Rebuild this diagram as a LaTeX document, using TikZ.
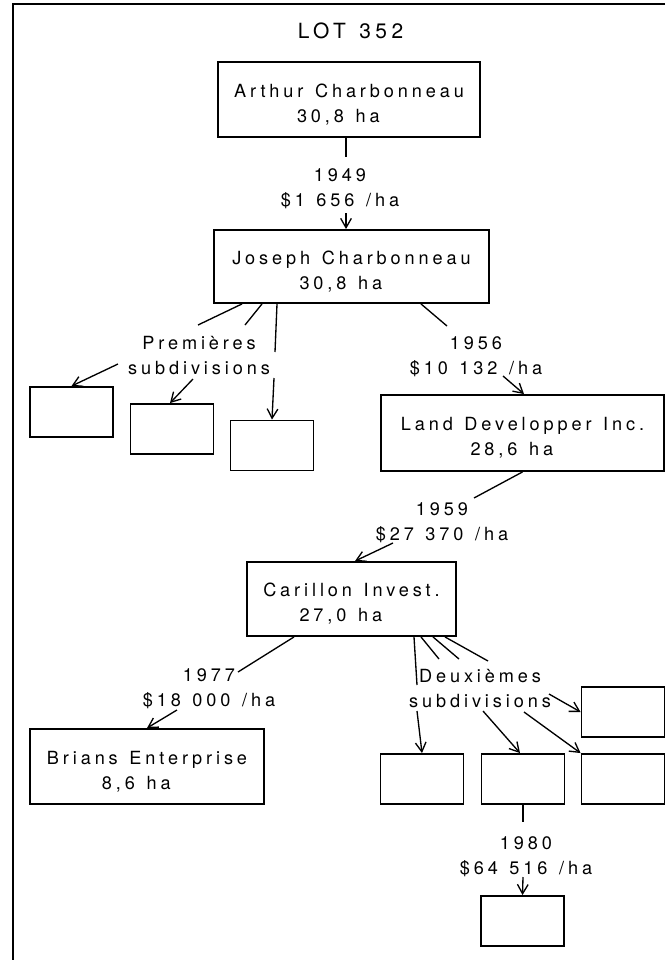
\documentclass[tikz,border=0pt]{standalone}
\usepackage{fontspec}
\setmainfont[LetterSpace=21.5,WordSpace=1.3]{TeX Gyre Heros}
\usetikzlibrary{arrows.meta}
\tikzset{lotbox/.style={
  draw,
  line width=1.4pt,
  align=center,
  inner sep=0pt,
  font=\fontsize{13.6}{18.75}\selectfont,
  }
  }
\tikzset{subbox/.style={
  draw,
  line width=1.4pt,
  minimum width=62.25pt,
  minimum height=37.5pt,
  }
  }
\tikzset{sale/.style={align=center, inner sep=0pt, font=\fontsize{13.6}{18.75}\selectfont}}
\tikzset{link/.style={line width=1pt}}
\tikzset{sold/.style={line width=1pt, -{Straight Barb[length=7pt,width=8pt]}}}
\newcommand{\owner}[2]{\rule{0pt}{17.5pt}#1\\#2 ha\hspace*{16pt}}

\begin{document}
\begin{tikzpicture}[x=0.75pt,y=-0.75pt]
      \useasboundingbox (0,0) rectangle (665,960);
      \draw[line width=1.5pt] (665,4) -- (13,4) -- (13,960);
      \node[font=\fontsize{15.7}{18}\selectfont] (lot) at (350.5,31) {LOT 352};

      % owners
      \node[lotbox, minimum width=196.5pt, minimum height=56.25pt] (arthur) at (349,99.5) {\owner{Arthur Charbonneau}{30,8}};
      \node[lotbox, minimum width=206.25pt, minimum height=54.75pt] (joseph) at (351.5,266.5) {\owner{Joseph Charbonneau}{30,8}};
      \node[lotbox, minimum width=212.25pt, minimum height=57pt] (land) at (522.5,433) {\owner{Land Developper Inc.}{28,6}};
      \node[lotbox, minimum width=156.75pt, minimum height=55.5pt] (carillon) at (351.5,599) {\owner{Carillon Invest.}{27,0}};
      \node[lotbox, minimum width=175.5pt, minimum height=56.25pt] (brians) at (147,766.5) {\owner{Brians Enterprise}{8,6}};

      % subdivisions
      \node[subbox] (sub1) at (71.5,412) {};
      \node[subbox] (sub2) at (172,429) {};
      \node[subbox] (sub3) at (272,445.5) {};
      \node[subbox] (dsub0) at (623,712) {};
      \node[subbox] (dsub1) at (422,779) {};
      \node[subbox] (dsub2) at (523,779) {};
      \node[subbox] (dsub3) at (623,779) {};
      \node[subbox] (resale) at (522.5,921) {};

      % sales
      \node[sale] (s1949) at (340,189) {1949\\\$1 656 /ha};
      \node[sale] (prem) at (199,356) {Premières\\subdivisions};
      \node[sale] (s1956) at (476,357) {1956\\\$10 132 /ha};
      \node[sale] (s1959) at (442,523) {1959\\\$27 370 /ha};
      \node[sale] (s1977) at (209,689) {1977\\\$18 000 /ha};
      \node[sale] (deux) at (480,689) {Deuxièmes\\subdivisions};
      \node[sale] (s1980) at (526,857) {1980\\\$64 516 /ha};

      \coordinate (a1) at (346,157);
      \coordinate (a2) at (346,213);
      \coordinate (p1) at (198,325);
      \coordinate (p2) at (245,325);
      \coordinate (p3) at (275,352);
      \coordinate (p4) at (118,364);
      \coordinate (p5) at (193,379);
      \coordinate (p6) at (274,378);
      \coordinate (j1) at (447,326);
      \coordinate (j2) at (503,376);
      \coordinate (l1) at (474,498);
      \coordinate (l2) at (393,543);
      \coordinate (c1) at (238,672);
      \coordinate (c2) at (177,710);
      \coordinate (d1) at (417,685);
      \coordinate (d2) at (439,659);
      \coordinate (d3) at (459,659);
      \coordinate (d4) at (488,661);
      \coordinate (d5) at (417,711);
      \coordinate (d6) at (483,711);
      \coordinate (d7) at (524,712);
      \coordinate (d8) at (549,694);
      \coordinate (r1) at (523,822);
      \coordinate (r2) at (523,877);

      \draw[link] ([shift={(-3,0)}]arthur.south) -- (a1);
      \draw[sold] (a2) -- ([shift={(-5.5,0)}]joseph.north);
      \draw[link] ([shift={(-109.5,0)}]joseph.south) -- (p1);
      \draw[link] ([shift={(-89.5,0)}]joseph.south) -- (p2);
      \draw[link] ([shift={(-74.5,0)}]joseph.south) -- (p3);
      \draw[sold] (p4) -- (sub1.north);
      \draw[sold] (p5) -- ([shift={(-2,0)}]sub2.north);
      \draw[sold] (p6) -- (sub3.north);
      \draw[link] ([shift={(69.5,0)}]joseph.south) -- (j1);
      \draw[sold] (j2) -- ([shift={(1.5,0)}]land.north);
      \draw[link] (land.south) -- (l1);
      \draw[sold] (l2) -- ([shift={(3.5,0)}]carillon.north);
      \draw[link] ([shift={(-57.5,0)}]carillon.south) -- (c1);
      \draw[sold] (c2) -- (brians.north);
      \draw[link] ([shift={(62.5,0)}]carillon.south) -- (d1);
      \draw[link] ([shift={(69.5,0)}]carillon.south) -- (d2);
      \draw[link] ([shift={(81.5,0)}]carillon.south) -- (d3);
      \draw[link] ([shift={(93.5,0)}]carillon.south) -- (d4);
      \draw[sold] (d5) -- (dsub1.north);
      \draw[sold] (d6) -- ([shift={(-3,0)}]dsub2.north);
      \draw[sold] (d7) -- (dsub3.north west);
      \draw[sold] (d8) -- (dsub0.west);
      \draw[link] (dsub2.south) -- (r1);
      \draw[sold] (r2) -- (resale.north);
\end{tikzpicture}
\end{document}
